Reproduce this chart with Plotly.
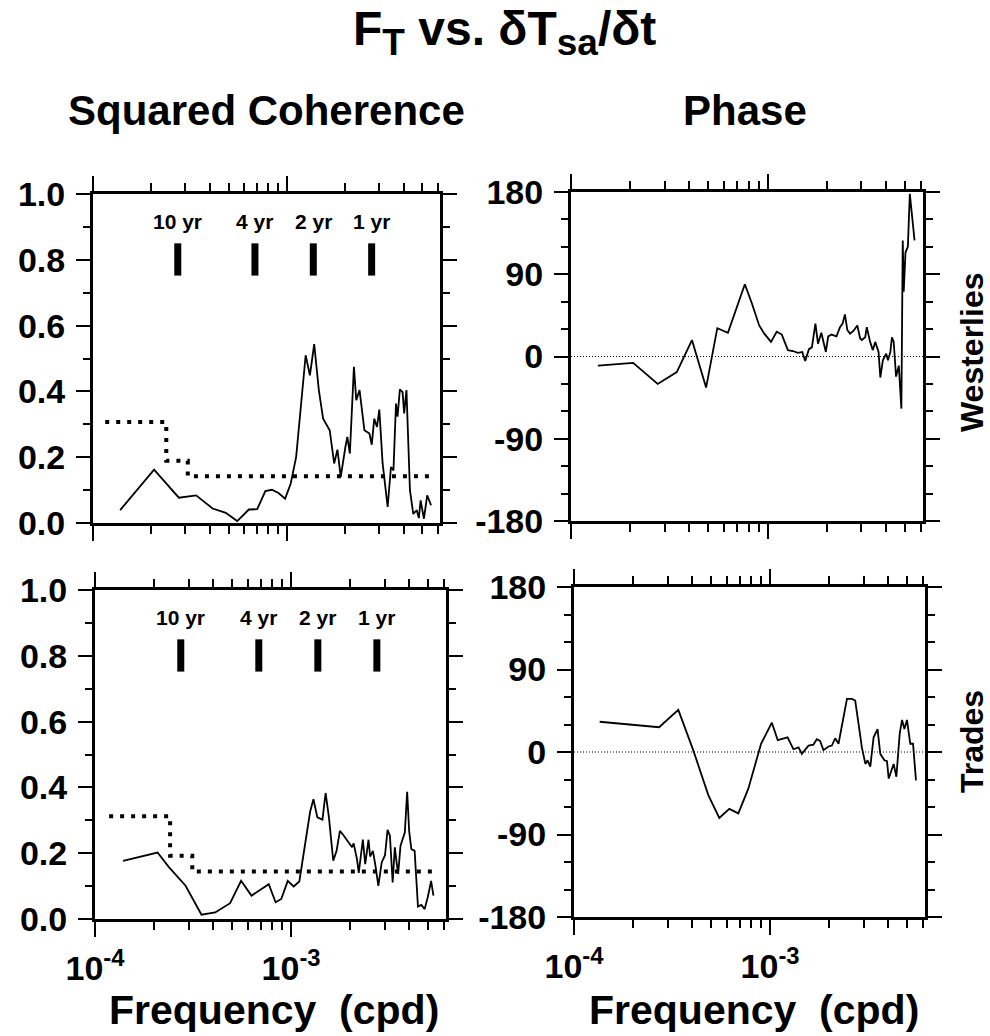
import numpy as np
import plotly.graph_objects as go

# ---------------- data (frequencies given as log10 of cpd) ----------------
west_coh_lf = [-3.860,-3.685,-3.557,-3.468,-3.383,-3.315,-3.256,-3.196,-3.153,-3.111,-3.077,-3.043,-3.009,-2.980,-2.952,-2.928,-2.903,-2.881,-2.859,-2.835,-2.813,-2.779,-2.756,-2.739,-2.722,-2.698,-2.688,-2.675,-2.654,-2.642,-2.625,-2.600,-2.574,-2.562,-2.549,-2.535,-2.523,-2.506,-2.480,-2.463,-2.450,-2.437,-2.429,-2.417,-2.403,-2.395,-2.383,-2.365,-2.348,-2.330,-2.319,-2.310,-2.293,-2.276,-2.256]
west_coh = [0.039,0.162,0.077,0.084,0.044,0.031,0.006,0.041,0.042,0.097,0.101,0.091,0.074,0.120,0.201,0.363,0.510,0.449,0.544,0.404,0.317,0.282,0.181,0.223,0.140,0.231,0.262,0.211,0.475,0.373,0.404,0.282,0.272,0.238,0.317,0.292,0.345,0.181,0.049,0.170,0.160,0.363,0.323,0.406,0.398,0.333,0.404,0.099,0.028,0.039,0.015,0.069,0.013,0.084,0.054]

west_ph_lf = [-3.863,-3.684,-3.559,-3.462,-3.385,-3.313,-3.256,-3.202,-3.116,-3.080,-3.043,-3.017,-2.983,-2.954,-2.928,-2.897,-2.872,-2.846,-2.824,-2.809,-2.790,-2.775,-2.757,-2.744,-2.727,-2.715,-2.704,-2.692,-2.675,-2.650,-2.632,-2.619,-2.607,-2.595,-2.581,-2.564,-2.544,-2.530,-2.521,-2.504,-2.496,-2.479,-2.465,-2.453,-2.436,-2.427,-2.414,-2.397,-2.388,-2.376,-2.368,-2.359,-2.347,-2.333,-2.320,-2.313,-2.308,-2.299,-2.287,-2.277,-2.253]
west_ph = [-10,-7,-30,-17,18,-34,31,26,79,58,34,25,16,27,24,7,6,4,5,-5,8,10,36,14,26,16,5,22,24,22,32,36,46,29,25,28,34,20,18,21,32,16,7,16,5,-23,-4,3,-4,5,21,16,-22,-10,-57,127,71,114,120,178,127]

trade_coh_lf = [-3.857,-3.681,-3.622,-3.538,-3.457,-3.387,-3.311,-3.255,-3.202,-3.160,-3.114,-3.079,-3.050,-3.017,-2.987,-2.958,-2.924,-2.903,-2.886,-2.866,-2.840,-2.824,-2.807,-2.785,-2.768,-2.751,-2.731,-2.706,-2.689,-2.681,-2.664,-2.655,-2.644,-2.634,-2.622,-2.605,-2.597,-2.583,-2.571,-2.555,-2.538,-2.521,-2.508,-2.496,-2.482,-2.471,-2.462,-2.454,-2.442,-2.429,-2.420,-2.408,-2.398,-2.387,-2.370,-2.353,-2.336,-2.319,-2.303,-2.286,-2.274]
trade_coh = [0.177,0.202,0.157,0.101,0.013,0.020,0.048,0.116,0.071,0.089,0.106,0.051,0.061,0.116,0.099,0.114,0.238,0.326,0.364,0.309,0.302,0.383,0.309,0.177,0.207,0.268,0.253,0.233,0.218,0.230,0.182,0.140,0.187,0.241,0.167,0.241,0.190,0.207,0.167,0.101,0.172,0.194,0.271,0.253,0.111,0.218,0.172,0.137,0.223,0.243,0.263,0.387,0.268,0.213,0.207,0.038,0.043,0.030,0.066,0.116,0.071]

trade_ph_lf = [-3.869,-3.566,-3.468,-3.392,-3.315,-3.259,-3.208,-3.162,-3.111,-3.046,-2.991,-2.961,-2.911,-2.881,-2.855,-2.838,-2.804,-2.779,-2.762,-2.745,-2.728,-2.702,-2.685,-2.668,-2.651,-2.634,-2.608,-2.583,-2.566,-2.549,-2.532,-2.514,-2.503,-2.489,-2.472,-2.452,-2.438,-2.417,-2.404,-2.395,-2.370,-2.356,-2.339,-2.327,-2.315,-2.302,-2.285,-2.271,-2.256]
trade_ph = [33,27,46,2,-47,-72,-62,-67,-40,9,32,13,16,3,5,-2,7,8,14,12,2,6,7,15,9,29,58,58,56,31,5,-13,-9,-16,16,25,-2,-9,-10,-29,-13,-27,20,35,25,35,9,9,-31]

# 95% significance level of coherence (step function)
west_sig_lf = [-3.937, -3.622, -3.511, -2.256]
west_sig = [0.307, 0.189, 0.142, 0.142]
trade_sig_lf = [-3.928, -3.617, -3.504, -2.270]
trade_sig = [0.312, 0.192, 0.144, 0.144]

# reference periods (years)
periods_yr = [10, 4, 2, 1]
period_labels = ["10 yr", "4 yr", "2 yr", "1 yr"]

coh_ticks = [0.0, 0.2, 0.4, 0.6, 0.8, 1.0]
phase_ticks = [-180, -90, 0, 90, 180]
phase_ticktext = ["-180", "-90", "0", "90", "180"]
freq_ticks = [1e-4, 1e-3]
freq_ticktext = ["10<sup>-4</sup>", "10<sup>-3</sup>"]
freq_minor = [m * 1e-4 for m in range(2, 10)] + [m * 1e-3 for m in range(2, 7)]

# ---------------- figure ----------------
FONT = "Liberation Sans, Arial, Helvetica, sans-serif"
W, H = 990, 1036

def px_x(p):
    return p / W

def px_y(p):
    return 1 - p / H

dom = {
    "TL": ([93, 440], [194, 523]),
    "TR": ([571, 923], [192, 521]),
    "BL": ([95, 446], [590, 919]),
    "BR": ([574, 925], [587, 917]),
}

def xd(k):
    a, b = dom[k][0]
    return [px_x(a), px_x(b)]

def yd(k):
    a, b = dom[k][1]
    return [px_y(b), px_y(a)]

def f(lf):
    return np.power(10.0, np.array(lf))

fig = go.Figure()
line = dict(color="black", width=1.8)

fig.add_trace(go.Scatter(x=f(west_coh_lf), y=west_coh, mode="lines", line=line, xaxis="x", yaxis="y"))
fig.add_trace(go.Scatter(x=f(west_sig_lf), y=west_sig, mode="lines", line_shape="hv",
                         line=dict(color="black", width=4, dash="4px,7px"), xaxis="x", yaxis="y"))
fig.add_trace(go.Scatter(x=f(west_ph_lf), y=west_ph, mode="lines", line=line, xaxis="x2", yaxis="y2"))
fig.add_trace(go.Scatter(x=f(trade_coh_lf), y=trade_coh, mode="lines", line=line, xaxis="x3", yaxis="y3"))
fig.add_trace(go.Scatter(x=f(trade_sig_lf), y=trade_sig, mode="lines", line_shape="hv",
                         line=dict(color="black", width=4, dash="4px,7px"), xaxis="x3", yaxis="y3"))
fig.add_trace(go.Scatter(x=f(trade_ph_lf), y=trade_ph, mode="lines", line=line, xaxis="x4", yaxis="y4"))

# period bars
period_f = [1.0 / (365.25 * p) for p in periods_yr]
bx, by = [], []
for pf in period_f:
    bx += [pf, pf, None]
    by += [0.752, 0.850, None]
for xa, ya in (("x", "y"), ("x3", "y3")):
    fig.add_trace(go.Scatter(x=bx, y=by, mode="lines", line=dict(color="black", width=7),
                             xaxis=xa, yaxis=ya))

tickfont = dict(family=FONT, size=34, color="black", weight="bold")

def xaxis(k, anchor, labels):
    return dict(
        type="log", range=[-4, -2.21], domain=xd(k), anchor=anchor, automargin=False,
        showline=True, linewidth=3, linecolor="black", mirror="ticks",
        ticks="outside", ticklen=15, tickwidth=2, tickcolor="black",
        tickvals=freq_ticks, ticktext=freq_ticktext, showticklabels=labels,
        tickfont=tickfont, showgrid=False, zeroline=False, ticklabelstandoff=2,
        minor=dict(ticks="outside", ticklen=8, tickwidth=2, tickcolor="black",
                   tickvals=freq_minor, showgrid=False),
    )

def yaxis_coh(k, anchor):
    return dict(
        range=[0, 1], domain=yd(k), anchor=anchor, automargin=False,
        showline=True, linewidth=3, linecolor="black", mirror="ticks",
        ticks="outside", ticklen=14, tickwidth=2, tickcolor="black",
        tickvals=coh_ticks, tickformat=".1f", tickfont=tickfont,
        showgrid=False, zeroline=False, ticklabelstandoff=4,
        minor=dict(ticks="outside", ticklen=7, tickwidth=2, tickcolor="black",
                   dtick=0.1, showgrid=False),
    )

def yaxis_ph(k, anchor):
    return dict(
        range=[-180, 180], domain=yd(k), anchor=anchor, automargin=False,
        showline=True, linewidth=3, linecolor="black", mirror="ticks",
        ticks="outside", ticklen=14, tickwidth=2, tickcolor="black",
        tickvals=phase_ticks, ticktext=phase_ticktext, tickfont=tickfont,
        showgrid=False, zeroline=False, ticklabelstandoff=4,
        minor=dict(ticks="outside", ticklen=7, tickwidth=2, tickcolor="black",
                   dtick=30, tick0=0, showgrid=False),
    )

fig.update_layout(
    template="none",
    width=W, height=H, margin=dict(l=0, r=0, t=0, b=0, autoexpand=False),
    paper_bgcolor="white", plot_bgcolor="white", showlegend=False,
    xaxis=xaxis("TL", "y", False), yaxis=yaxis_coh("TL", "x"),
    xaxis2=xaxis("TR", "y2", False), yaxis2=yaxis_ph("TR", "x2"),
    xaxis3=xaxis("BL", "y3", True), yaxis3=yaxis_coh("BL", "x3"),
    xaxis4=xaxis("BR", "y4", True), yaxis4=yaxis_ph("BR", "x4"),
)

# zero phase reference lines
for xa, ya in (("x2", "y2"), ("x4", "y4")):
    fig.add_shape(type="line", xref=xa + " domain", x0=0, x1=1, yref=ya, y0=0, y1=0,
                  line=dict(color="black", width=1, dash="1px,2px"), layer="below")

# period labels
for xa, ya in (("x", "y"), ("x3", "y3")):
    for pf, lab in zip(period_f, period_labels):
        fig.add_annotation(x=np.log10(pf), y=0.915, xref=xa, yref=ya, text=lab, showarrow=False,
                           xanchor="center", yanchor="middle",
                           font=dict(family=FONT, size=21, color="black", weight="bold"))

big = dict(family=FONT, color="black", weight="bold")

def label(cx, cy, text, size, angle=0):
    fig.add_annotation(x=px_x(cx), y=px_y(cy), xref="paper", yref="paper", showarrow=False,
                       xanchor="center", yanchor="middle", textangle=angle,
                       text=text, font=dict(size=size, **big))

sub = "<sub><span style='font-size:37px'>%s</span></sub>"
label(505, 33, "F" + sub % "T" + " vs. δT" + sub % "sa" + "/δt", 48)
label(266, 110, "Squared Coherence", 42)
label(745, 110, "Phase", 42)
label(274, 1010, "Frequency\u00a0\u00a0(cpd)", 41)
label(754, 1010, "Frequency\u00a0\u00a0(cpd)", 41)
label(972, 352, "Westerlies", 32, -90)
label(972, 742, "Trades", 32, -90)

fig.write_html("out.html")
